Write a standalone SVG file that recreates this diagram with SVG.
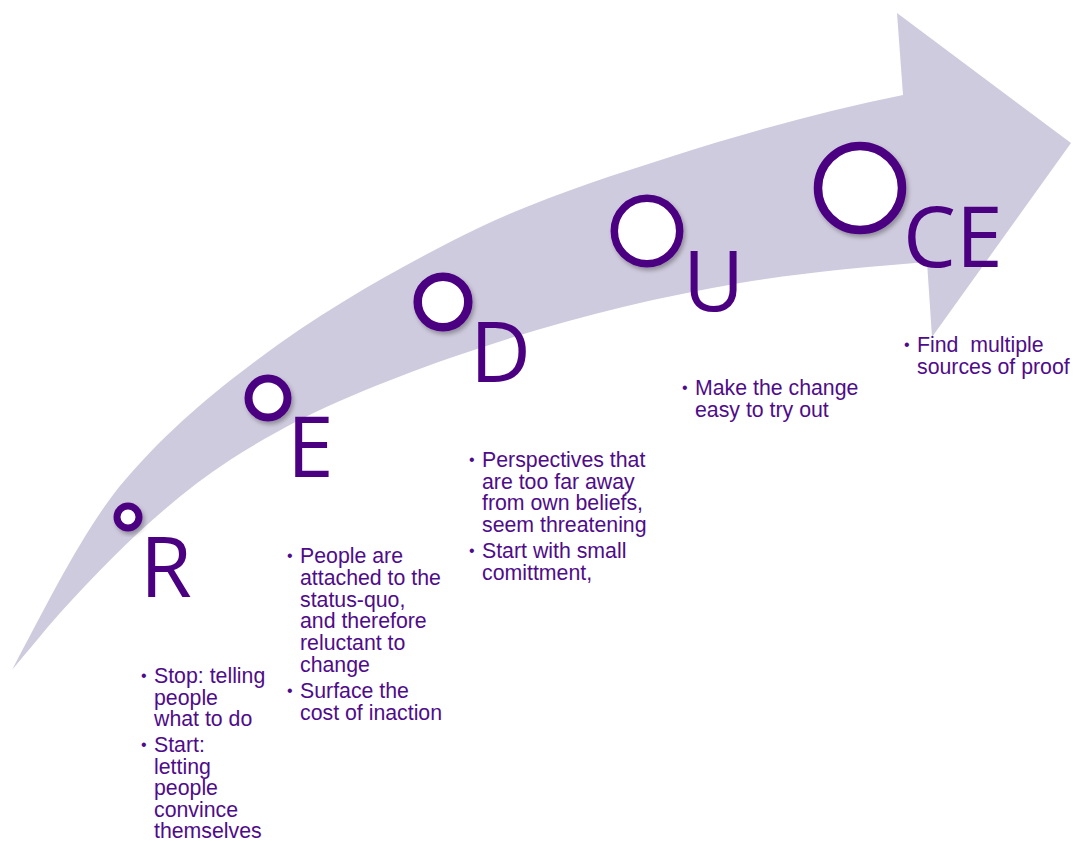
<svg xmlns="http://www.w3.org/2000/svg" width="1079" height="841" viewBox="0 0 1079 841">
  <defs>
    <filter id="ringShadow" x="-30%" y="-30%" width="170%" height="170%">
      <feDropShadow dx="2" dy="3" stdDeviation="2" flood-color="#000" flood-opacity="0.3"/>
    </filter>
  </defs>
  <style>
    .band { fill: #CFCBDE; }
    .ring { fill: #FFFFFF; stroke: #4B0082; filter: url(#ringShadow); }
    .letter { font-family: "Open Sans", "Liberation Sans", sans-serif; font-size: 84px; fill: #4B0082; }
    .note { font-family: "Liberation Sans", Arial, sans-serif; font-size: 21.3px; fill: #4F0C8A; white-space: pre; }
    .dot { font-family: "Liberation Sans", Arial, sans-serif; font-size: 16px; fill: #4F0C8A; }
  </style>

  <rect width="1079" height="841" fill="#FFFFFF"/>

  <!-- curved arrow band -->
  <g id="connectors">
    <path class="band" d="M12,670
      C50,598 87,524 125,480
      C169,429 213,393 257,360
      C321,312 386,275 450,242
      C523,204 597,180 670,157
      C748,132 825,111 903,95
      L897,13 L1071,143 L932,337 L927,262
      C865,267 802,272.5 740,283
      C643,299.5 547,324 450,358
      C377,384 303,412.5 230,460
      C173,497 117,550 60,613
      C44,631 28,651 12,670 Z"/>
  </g>

  <!-- R -->
  <g id="step-r">
    <circle class="ring" cx="128" cy="517" r="11" stroke-width="7"/>
    <text class="letter" x="140" y="597">R</text>
    <text class="dot" x="141" y="681">•</text>
    <text class="note" x="154" y="683">Stop: telling<tspan x="154" dy="21.5">people</tspan><tspan x="154" dy="21.5">what to do</tspan></text>
    <text class="dot" x="141" y="750">•</text>
    <text class="note" x="154" y="752">Start:<tspan x="154" dy="21.5">letting</tspan><tspan x="154" dy="21.5">people</tspan><tspan x="154" dy="21.5">convince</tspan><tspan x="154" dy="21.5">themselves</tspan></text>
  </g>

  <!-- E -->
  <g id="step-e">
    <circle class="ring" cx="268" cy="398" r="19.5" stroke-width="8"/>
    <text class="letter" x="287" y="477">E</text>
    <text class="dot" x="287" y="561">•</text>
    <text class="note" x="300" y="563">People are<tspan x="300" dy="21.8">attached to the</tspan><tspan x="300" dy="21.8">status-quo,</tspan><tspan x="300" dy="21.8">and therefore</tspan><tspan x="300" dy="21.8">reluctant to</tspan><tspan x="300" dy="21.8">change</tspan></text>
    <text class="dot" x="287" y="696">•</text>
    <text class="note" x="300" y="698">Surface the<tspan x="300" dy="21.8">cost of inaction</tspan></text>
  </g>

  <!-- D -->
  <g id="step-d">
    <circle class="ring" cx="443" cy="302" r="25.3" stroke-width="8.5"/>
    <text class="letter" x="470" y="382">D</text>
    <text class="dot" x="469" y="465">•</text>
    <text class="note" x="482" y="467">Perspectives that<tspan x="482" dy="21.7">are too far away</tspan><tspan x="482" dy="21.7">from own beliefs,</tspan><tspan x="482" dy="21.7">seem threatening</tspan></text>
    <text class="dot" x="469" y="556">•</text>
    <text class="note" x="482" y="558">Start with small<tspan x="482" dy="21.7">comittment,</tspan></text>
  </g>

  <!-- U -->
  <g id="step-u">
    <circle class="ring" cx="647" cy="231" r="32.7" stroke-width="7.5"/>
    <text class="letter" x="683" y="311">U</text>
    <text class="dot" x="682" y="393">•</text>
    <text class="note" x="695" y="395">Make the change<tspan x="695" dy="22">easy to try out</tspan></text>
  </g>

  <!-- CE -->
  <g id="step-ce">
    <circle class="ring" cx="860" cy="188" r="42" stroke-width="8.5"/>
    <text class="letter" x="903" y="267">CE</text>
    <text class="dot" x="904" y="350">•</text>
    <text class="note" x="917" y="352">Find  multiple<tspan x="917" dy="22">sources of proof</tspan></text>
  </g>
</svg>
